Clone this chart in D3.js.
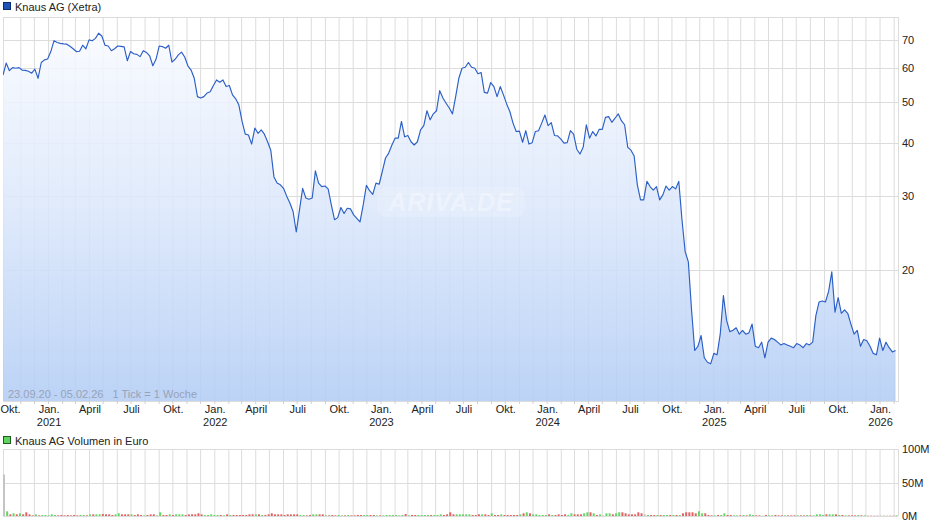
<!DOCTYPE html>
<html><head><meta charset="utf-8">
<script src="https://cdn.jsdelivr.net/npm/d3@7"></script>
<style>
body{margin:0;background:#fff}
svg{display:block;font-family:"Liberation Sans",Arial,sans-serif}
</style>
</head><body>
<svg id="c" width="940" height="526"></svg>
<script>
// ---- data ----
const startDate = "2020-09-23";
const endDate = "2026-02-05";
const priceValues = [
57.8,61.7,59.2,60.2,60.0,60.2,59.4,59.3,59.0,58.4,
59.7,56.8,61.9,62.8,63.1,65.7,69.7,69.0,68.7,68.5,
68.4,67.6,66.7,65.7,65.8,68.0,66.7,70.0,69.7,70.6,
72.6,71.5,68.0,67.7,66.0,66.7,67.7,67.6,67.4,62.5,
65.7,64.9,64.7,63.9,66.0,65.4,64.2,60.8,63.0,67.7,
67.5,66.9,68.0,62.0,63.0,64.5,65.5,63.8,60.8,59.4,
56.8,51.4,51.0,51.4,52.4,52.8,54.6,56.3,55.6,56.3,
54.3,54.6,51.9,50.8,49.1,44.9,41.9,41.7,39.7,43.3,
42.1,42.9,41.9,40.2,38.4,33.2,32.1,31.8,31.2,29.9,
28.8,27.5,24.6,27.7,31.2,29.6,29.4,29.6,34.3,32.1,
31.5,31.6,31.1,28.5,26.3,26.6,28.1,27.2,28.0,27.9,
27.0,26.5,26.0,28.5,31.7,30.8,30.2,32.1,31.9,34.2,
36.8,37.8,39.5,41.0,41.0,44.9,41.3,41.6,40.2,39.5,
40.2,42.9,43.9,47.6,45.3,46.8,47.6,53.1,51.0,49.6,
48.3,46.8,51.4,56.8,60.0,60.3,61.9,60.3,60.0,58.2,
58.6,52.6,52.4,55.5,54.3,51.4,54.3,51.9,49.4,47.4,
44.5,42.5,42.6,40.1,42.7,39.7,40.0,42.5,42.7,44.5,
46.5,43.9,44.6,41.6,41.5,40.8,39.9,40.0,42.7,41.9,
38.6,37.6,39.0,44.1,41.0,42.5,41.5,43.0,43.0,45.9,
46.1,44.7,45.7,46.8,45.1,44.1,39.0,38.4,37.2,31.8,
29.3,29.3,32.4,31.5,30.9,31.5,29.3,30.1,31.6,30.9,
31.5,31.1,32.4,26.3,22.1,20.9,16.1,12.9,13.2,14.0,
12.4,12.1,12.0,12.7,12.6,14.1,17.4,15.2,14.3,14.4,
14.6,14.1,14.4,14.1,14.2,14.9,13.2,13.1,13.5,12.4,
13.5,13.8,13.7,13.5,13.3,13.4,13.3,13.2,13.1,13.4,
13.3,13.1,13.4,13.3,13.5,15.6,16.8,16.9,16.8,17.8,
19.8,15.9,17.2,15.8,16.1,15.8,14.9,14.1,14.4,13.2,
13.7,13.6,13.2,12.7,12.6,13.8,12.9,13.5,13.1,12.8,
12.9];
const volumeValues = [
62,7,2.5,4,2.5,4,2.5,5.5,2.5,1,
2.5,1,1.5,1.5,1,2.5,1.5,1,1.5,1,
1.5,1,1.5,1,1.5,1.5,1,2.5,2.5,2.5,
2.5,3,2.5,2.5,1.5,2.5,4,2.5,2.5,2.5,
2.5,1.5,2.5,1.5,1,1.5,2.5,2.5,1,5.5,
1.5,1.5,2.5,1.5,2.5,2.5,2.5,1.5,2.5,2.5,
2.5,4,2.5,1.5,1.5,2.5,1.5,1.5,1.5,1,
2.5,1.5,1.5,1.5,1.5,1.5,1.5,2.5,2.5,2.5,
2.5,1.5,1.5,2.5,4,2.5,2.5,2.5,1.5,2.5,
2.5,2.5,2.5,1.5,1.5,1,1.5,2.5,2.5,2.5,
2.5,1,1,1.5,1,1.5,1,1,1.5,1,
1,1.5,1.5,1.5,1.5,1.5,1.5,1,1,1,
1.5,1.5,1.5,1.5,1.5,1.5,3,1,1.5,1.5,
1.5,1.5,1.5,1.5,1.5,1.5,1.5,2.5,1.5,2.5,
5.5,2.5,2.5,2.5,2.5,2.5,2.5,1.5,1.5,2.5,
2.5,2.5,1.5,4,1.5,1.5,2.5,1.5,1.5,1.5,
1.5,1.5,2.5,4,5.5,4,2.5,2.5,1.5,1.5,
1.5,2.5,1.5,1.5,2.5,1.5,2.5,1.5,4,2.5,
2.5,2.5,4,5.5,5.5,4,1.5,2.5,1,4,
4,2.5,4,5.5,5.5,4,2.5,2.5,2.5,5.5,
4,2.5,1.5,1.5,1.5,1.5,1.5,1.5,1.5,1.5,
1.5,1.5,1.5,4,5.5,5.5,5.5,4,7,4,
4,1.5,1,1,1.5,1.5,4,1.5,1.5,1,
1,1,1.5,1,2.5,1.5,1,1,0.5,1.5,
1,1,1.5,1,1,1,1,1,1,1,
1,1,1.5,1,1,2.5,2.5,1.5,2.5,2.5,
2.5,2.5,1.5,1.5,1,1,1,1,1.5,1,
1,0.5,0.5,0.5,0.5,0.5,0.5,0.5,0.5,0.5,
1];
const priceTicks = [20,30,40,50,60,70];
const volumeTicks = [0,50,100];
const volumeTickLabels = ["0M","50M","100M"];
const quarterMonthNames = ["Jan.","April","Juli","Okt."];
const priceTitle = "Knaus AG (Xetra)";
const volumeTitle = "Knaus AG Volumen in Euro";
const rangeNote = "23.09.20 - 05.02.26   1 Tick = 1 Woche";
const watermark = "ARIVA.DE";

// ---- build ----
const parse = d3.timeParse("%Y-%m-%d");
const t0 = parse(startDate), t1 = parse(endDate);
const data = priceValues.map((v,i)=>({date:d3.timeDay.offset(t0,7*i), value:v, vol:volumeValues[i],
  dir: i===0 ? 0 : Math.sign(v - priceValues[i-1])}));

const L=3, R=898, T=17, B=401, VT=449, VB=516;
const svg = d3.select("#c");
const x = d3.scaleTime().domain([t0,t1]).range([3,896]);
const y = d3.scaleLog().domain([9.8,79.3]).range([B,T]);
const yv = d3.scaleLinear().domain([0,100]).range([VB,VT]);
const allMonths = d3.timeMonth.range(d3.timeMonth.ceil(t0), t1);
const months = allMonths.filter(d=>x(d)>L+5);
const quarters = allMonths.filter(d=>d.getMonth()%3===0);

const defs = svg.append("defs");
const grad = defs.append("linearGradient").attr("id","fillg").attr("gradientUnits","userSpaceOnUse")
  .attr("x1",0).attr("x2",0).attr("y1",T).attr("y2",B);
grad.append("stop").attr("offset",0).attr("stop-color","#fbfcff");
grad.append("stop").attr("offset",0.5).attr("stop-color","#dbe7fb");
grad.append("stop").attr("offset",1).attr("stop-color","#b3cdf5");
defs.append("clipPath").attr("id","clipP").append("rect").attr("x",L).attr("y",T).attr("width",R-L).attr("height",B-T);

const grid = "#dcdcdc";
// main grid
const g1 = svg.append("g");
g1.selectAll("line.v").data(months).join("line").attr("x1",d=>x(d)).attr("x2",d=>x(d))
  .attr("y1",T).attr("y2",B).attr("stroke",grid);
g1.selectAll("line.h").data(priceTicks).join("line").attr("x1",L).attr("x2",R)
  .attr("y1",d=>Math.round(y(d))+0.5).attr("y2",d=>Math.round(y(d))+0.5).attr("stroke",grid);
g1.append("rect").attr("x",L+0.5).attr("y",T+0.5).attr("width",R-L).attr("height",B-T)
  .attr("fill","none").attr("stroke",grid);

// area + line
const plot = svg.append("g").attr("clip-path","url(#clipP)");
plot.append("path").datum(data)
  .attr("d", d3.area().x(d=>x(d.date)).y0(B).y1(d=>y(d.value)))
  .attr("fill","url(#fillg)").attr("fill-opacity",0.88);
plot.append("path").datum(data)
  .attr("d", d3.line().x(d=>x(d.date)).y(d=>y(d.value)))
  .attr("fill","none").attr("stroke","#2b5fc7").attr("stroke-width",1.15).attr("stroke-linejoin","round");

// watermark
svg.append("rect").attr("x",377).attr("y",187).attr("width",148).attr("height",30).attr("rx",9)
  .attr("fill","#ffffff").attr("fill-opacity",0.18);
svg.append("text").attr("x",451).attr("y",211).attr("text-anchor","middle")
  .attr("font-size",25).attr("font-weight","bold").attr("font-style","italic")
  .attr("fill","#ffffff").attr("fill-opacity",0.35).attr("letter-spacing",1).text(watermark);

// range note
svg.append("text").attr("x",8).attr("y",398).attr("font-size",11).attr("fill","#98a2b6")
  .style("white-space","pre").text(rangeNote);

// right price axis
const ay = svg.append("g").attr("transform",`translate(${R},0)`)
  .call(d3.axisRight(y).tickValues(priceTicks).tickSize(0).tickPadding(4).tickFormat(d3.format("d")));
ay.select(".domain").remove();
ay.selectAll("text").attr("font-size",11).attr("fill","#222").attr("font-family","Liberation Sans, Arial, sans-serif");

// bottom axis ticks
svg.append("g").selectAll("line").data(months).join("line")
  .attr("x1",d=>x(d)).attr("x2",d=>x(d)).attr("y1",B).attr("y2",B+3).attr("stroke","#cfcfcf");
const ax = svg.append("g").attr("transform",`translate(0,${B})`)
  .call(d3.axisBottom(x).tickValues(quarters).tickSize(0).tickPadding(4)
    .tickFormat(d=>quarterMonthNames[d.getMonth()/3]));
ax.select(".domain").remove();
ax.selectAll("text").attr("font-size",11).attr("fill","#222").attr("font-family","Liberation Sans, Arial, sans-serif")
  .each(function(d){
    if(d.getMonth()===0){
      d3.select(this).append("tspan").attr("x",0).attr("dy","1.18em").text(d.getFullYear());
    }
  });
// keep the first label inside the picture
ax.selectAll(".tick").each(function(d){
  const px = x(d), t = d3.select(this).select("text");
  const w = this.querySelector("text").getComputedTextLength();
  if(px - w/2 < 0){ t.attr("text-anchor","start").attr("x", -px); }
});

// legends
svg.append("rect").attr("x",3.5).attr("y",2.5).attr("width",7).attr("height",7)
  .attr("fill","#1d52b8").attr("stroke","#0d2c6e");
svg.append("text").attr("x",15).attr("y",10.5).attr("font-size",11).attr("fill","#222").text(priceTitle);
svg.append("rect").attr("x",3.5).attr("y",436.5).attr("width",7).attr("height",7)
  .attr("fill","#5fd35f").attr("stroke","#1f5a1f");
svg.append("text").attr("x",15).attr("y",444.5).attr("font-size",11).attr("fill","#222").text(volumeTitle);

// volume grid
const g2 = svg.append("g");
g2.selectAll("line.v").data(months).join("line").attr("x1",d=>x(d)).attr("x2",d=>x(d))
  .attr("y1",VT).attr("y2",VB).attr("stroke",grid);
g2.selectAll("line.h").data(volumeTicks).join("line").attr("x1",L).attr("x2",R)
  .attr("y1",d=>Math.round(yv(d))+0.5).attr("y2",d=>Math.round(yv(d))+0.5).attr("stroke",grid);
g2.append("line").attr("x1",L+0.5).attr("x2",L+0.5).attr("y1",VT).attr("y2",VB).attr("stroke",grid);
g2.append("line").attr("x1",R+0.5).attr("x2",R+0.5).attr("y1",VT).attr("y2",VB).attr("stroke",grid);

// volume bars
const volColor = d => d.dir>0 ? "#63d663" : d.dir<0 ? "#e06262" : "#c4c4c4";
svg.append("g").selectAll("rect").data(data).join("rect")
  .attr("x",d=>x(d.date)).attr("width",2)
  .attr("y",d=>yv(d.vol)).attr("height",d=>VB - yv(d.vol))
  .attr("fill",volColor);

const av = svg.append("g").attr("transform",`translate(${R},0)`)
  .call(d3.axisRight(yv).tickValues(volumeTicks).tickSize(0).tickPadding(4)
    .tickFormat((d,i)=>volumeTickLabels[i]));
av.select(".domain").remove();
av.selectAll("text").attr("font-size",11).attr("fill","#222").attr("font-family","Liberation Sans, Arial, sans-serif");
</script>
</body></html>
